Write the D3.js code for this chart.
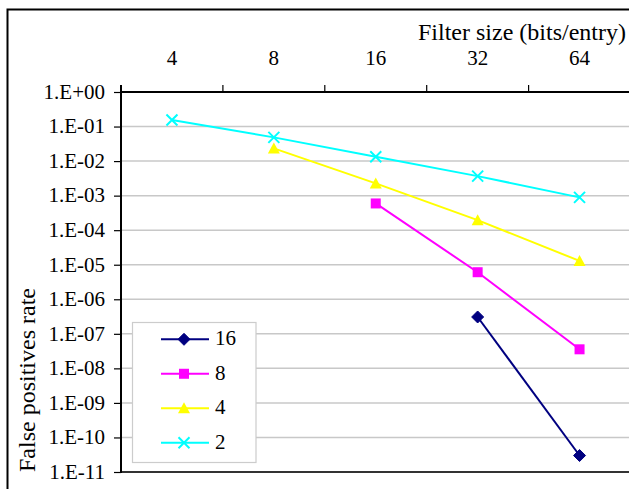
<!DOCTYPE html>
<html>
<head>
<meta charset="utf-8">
<script src="https://cdn.jsdelivr.net/npm/d3@7"></script>
<style>
  html, body { margin: 0; padding: 0; background: #fff; }
  svg { display: block; }
</style>
</head>
<body>
<svg id="chart" width="629" height="489"></svg>
<script>
// ---- data ----
const categories = ["4", "8", "16", "32", "64"];
const seriesNames = ["16", "8", "4", "2"];
const values16 = [null, null, null, 3.07e-7, 3.0e-11];
const values8  = [null, null, 5.94e-4, 6.07e-6, 3.56e-8];
const values4  = [null, 0.0233, 0.00226, 1.95e-4, 1.29e-5];
const values2  = [0.155, 0.0486, 0.0133, 0.00367, 0.00089];
const yTickValues = [1e0, 1e-1, 1e-2, 1e-3, 1e-4, 1e-5, 1e-6, 1e-7, 1e-8, 1e-9, 1e-10, 1e-11];
const yTickLabels = ["1.E+00","1.E-01","1.E-02","1.E-03","1.E-04","1.E-05","1.E-06","1.E-07","1.E-08","1.E-09","1.E-10","1.E-11"];
const xTitle = "Filter size (bits/entry)";
const yTitle = "False positives rate";

const FONT = '"Liberation Serif"';

// ---- styles ----
const styles = {
  "16": { color: "#000080", marker: "diamond" },
  "8":  { color: "#ff00ff", marker: "square" },
  "4":  { color: "#ffff00", marker: "triangle" },
  "2":  { color: "#00ffff", marker: "x" }
};
const seriesData = { "16": values16, "8": values8, "4": values4, "2": values2 };

const svg = d3.select("#chart");
const L = 121, T = 92, B = 472, R = 630.5;

const x = d3.scaleBand().domain(categories).range([L, R]).padding(0);
const y = d3.scaleLog().domain([1, 1e-11]).range([T, B]);

// outer frame
svg.append("rect").attr("x", 7.5).attr("y", 9.5).attr("width", 640).attr("height", 500)
  .attr("fill", "none").attr("stroke", "#000").attr("stroke-width", 2);

// gridlines
svg.append("g").selectAll("line")
  .data(yTickValues.filter(v => v < 1 && v > 1e-11))
  .join("line")
  .attr("x1", L).attr("x2", 629)
  .attr("y1", d => y(d)).attr("y2", d => y(d))
  .attr("stroke", "#c8c8c8").attr("stroke-width", 1.5);

// bottom line
svg.append("line").attr("x1", L).attr("x2", 629).attr("y1", B).attr("y2", B)
  .attr("stroke", "#333").attr("stroke-width", 2);

// y axis
const yAxis = d3.axisLeft(y).tickValues(yTickValues)
  .tickFormat((d, i) => yTickLabels[i]).tickSize(7).tickPadding(9);
const gy = svg.append("g").attr("transform", `translate(${L},0)`).call(yAxis);
gy.select(".domain").remove();
gy.selectAll(".tick line").attr("stroke", "#000").attr("stroke-width", 1.2);
gy.selectAll(".tick text").attr("fill", "#000").attr("dy", "0.3em")
  .attr("font-family", FONT).attr("font-size", 21);
svg.append("line").attr("x1", L).attr("x2", L).attr("y1", 85).attr("y2", B + 1)
  .attr("stroke", "#000").attr("stroke-width", 2);

// top x axis (category boundaries as ticks)
svg.append("line").attr("x1", L).attr("x2", 629).attr("y1", T).attr("y2", T)
  .attr("stroke", "#000").attr("stroke-width", 2);
svg.append("g").selectAll("line")
  .data(categories.slice(1))
  .join("line")
  .attr("x1", d => x(d)).attr("x2", d => x(d))
  .attr("y1", T).attr("y2", T - 7)
  .attr("stroke", "#000").attr("stroke-width", 1.2);
svg.append("g").selectAll("text")
  .data(categories)
  .join("text")
  .attr("x", d => x(d) + x.bandwidth() / 2)
  .attr("y", 65)
  .attr("text-anchor", "middle")
  .attr("font-family", FONT)
  .attr("font-size", 21)
  .text(d => d);

// titles
svg.append("text").attr("x", 522).attr("y", 40).attr("text-anchor", "middle")
  .attr("font-family", FONT).attr("font-size", 24).text(xTitle);
svg.append("text").attr("transform", "translate(35,380) rotate(-90)")
  .attr("text-anchor", "middle").attr("font-family", FONT).attr("font-size", 24).text(yTitle);

// marker drawing
function drawMarker(g, type, color, cx, cy) {
  if (type === "diamond") {
    g.append("path").attr("d", `M${cx},${cy-6}L${cx+6},${cy}L${cx},${cy+6}L${cx-6},${cy}Z`)
      .attr("fill", color).attr("stroke", color).attr("stroke-width", 1);
  } else if (type === "square") {
    g.append("rect").attr("x", cx - 5).attr("y", cy - 5).attr("width", 10).attr("height", 10)
      .attr("fill", color);
  } else if (type === "triangle") {
    g.append("path").attr("d", `M${cx},${cy-6}L${cx+6},${cy+5}L${cx-6},${cy+5}Z`)
      .attr("fill", color);
  } else if (type === "x") {
    g.append("path").attr("d", `M${cx-5.5},${cy-5.5}L${cx+5.5},${cy+5.5}M${cx-5.5},${cy+5.5}L${cx+5.5},${cy-5.5}`)
      .attr("stroke", color).attr("stroke-width", 2).attr("fill", "none");
  }
}

// series
const line = d3.line()
  .defined(d => d.v != null)
  .x(d => x(d.c) + x.bandwidth() / 2)
  .y(d => y(d.v));

seriesNames.forEach(name => {
  const st = styles[name];
  const pts = categories.map((c, i) => ({ c, v: seriesData[name][i] }));
  const g = svg.append("g");
  g.append("path").datum(pts).attr("d", line)
    .attr("fill", "none").attr("stroke", st.color).attr("stroke-width", 2);
  pts.filter(p => p.v != null).forEach(p => {
    drawMarker(g, st.marker, st.color, x(p.c) + x.bandwidth() / 2, y(p.v));
  });
});

// legend
const lg = svg.append("g");
lg.append("rect").attr("x", 132.5).attr("y", 322.5).attr("width", 123.5).attr("height", 140)
  .attr("fill", "#fff").attr("stroke", "#cccccc").attr("stroke-width", 1.2);
const legendY = d3.scalePoint().domain(seriesNames).range([339.3, 442.7]);
seriesNames.forEach(name => {
  const st = styles[name];
  const ly = legendY(name);
  lg.append("line").attr("x1", 161).attr("x2", 209).attr("y1", ly).attr("y2", ly)
    .attr("stroke", st.color).attr("stroke-width", 2);
  drawMarker(lg, st.marker, st.color, 184, ly);
  lg.append("text").attr("x", 215).attr("y", ly + 6)
    .attr("font-family", FONT).attr("font-size", 21).text(name);
});
</script>
</body>
</html>
